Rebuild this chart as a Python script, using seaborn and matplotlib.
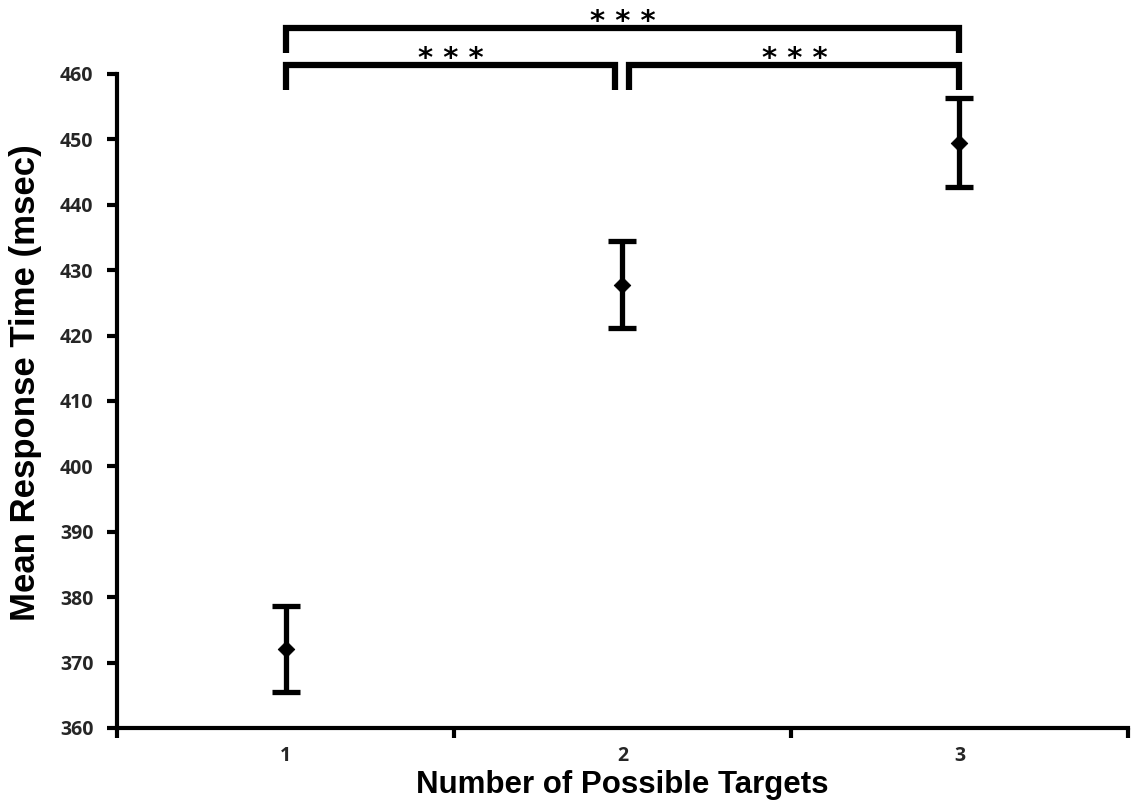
import matplotlib
matplotlib.use("Agg")
import matplotlib.pyplot as plt
import seaborn as sns
import pandas as pd

# Mean response time per condition, with error-bar half widths
targets = [1, 2, 3]
mean_rt = [372.1, 427.8, 449.5]
err_rt = [6.6, 6.6, 6.8]
y_ticks = [360, 370, 380, 390, 400, 410, 420, 430, 440, 450, 460]
sig_label = "* * *"

df = pd.DataFrame({"targets": targets, "rt": mean_rt, "err": err_rt})

sns.set_theme(style="white")
plt.rcParams["font.family"] = ["Open Sans", "DejaVu Sans"]

fig = plt.figure(figsize=(11.32, 8.05), dpi=100)
ax = fig.add_axes([0.1034, 0.0957, 0.893, 0.8124])

ax.errorbar(df["targets"], df["rt"], yerr=df["err"], fmt="none",
            ecolor="black", elinewidth=3.8, capsize=10, capthick=3.8, zorder=2)
sns.scatterplot(data=df, x="targets", y="rt", marker="D", s=70,
                color="black", edgecolor="black", ax=ax, zorder=3, legend=False)

ax.set_xlim(0.5, 3.5)
ax.set_ylim(360, 460)

# Tick marks sit between conditions; condition labels sit under the points
ax.set_xticks([0.5, 1.5, 2.5, 3.5])
ax.set_xticklabels([])
ax.set_xticks(targets, minor=True)
ax.set_xticklabels([str(t) for t in targets], minor=True)
ax.tick_params(axis="x", which="major", direction="out", length=7, width=3,
               bottom=True, color="black")
ax.tick_params(axis="x", which="minor", length=0, pad=13, labelsize=14)
ax.set_yticks(y_ticks)
ax.set_yticklabels([str(v) for v in y_ticks])
ax.tick_params(axis="y", direction="out", length=7, width=3, left=True,
               color="black", labelsize=14, pad=10)
for lab in ax.get_xticklabels(minor=True) + ax.get_yticklabels():
    lab.set_fontweight("bold")

for side in ["top", "right"]:
    ax.spines[side].set_visible(False)
for side in ["left", "bottom"]:
    ax.spines[side].set_linewidth(3)
    ax.spines[side].set_color("black")

label_font = dict(family=["Liberation Sans", "DejaVu Sans"], fontweight="bold",
                  color="black")
ax.set_xlabel("Number of Possible Targets", fontsize=22.5, **label_font)
ax.set_ylabel("Mean Response Time (msec)", fontsize=25, **label_font)
ax.xaxis.set_label_coords(0.5, -0.064)
ax.yaxis.set_label_coords(-0.074, 0.528)


def bracket(x0, x1, y_bar, y_leg, text_x):
    ax.plot([x0, x0, x1, x1], [y_leg, y_bar, y_bar, y_leg], color="black",
            lw=4.5, solid_joinstyle="miter", solid_capstyle="butt",
            clip_on=False, zorder=4)
    ax.text(text_x, y_bar - 0.3, sig_label, ha="center", va="baseline",
            fontsize=21, fontweight="bold", color="black", clip_on=False,
            family=["DejaVu Sans"])


bracket(1.0, 3.0, 467.0, 463.2, 2.0)
bracket(1.0, 1.979, 461.4, 457.6, 1.49)
bracket(2.018, 3.0, 461.4, 457.6, 2.51)

fig.savefig("out.png", dpi=100, facecolor="white")
